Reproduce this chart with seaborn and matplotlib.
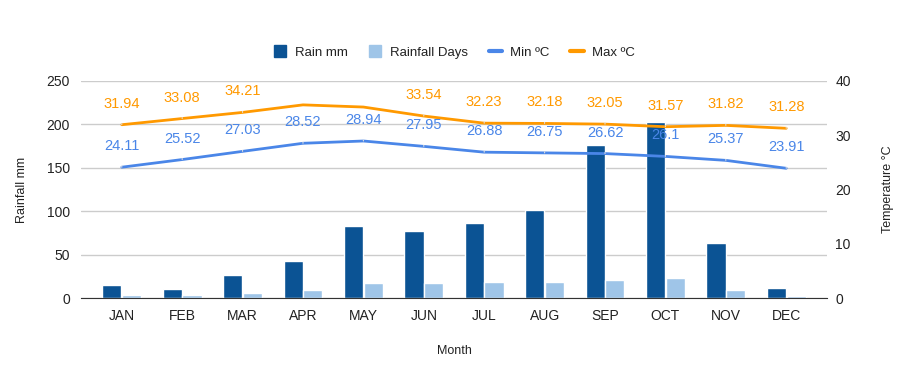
import numpy as np
import pandas as pd
import matplotlib
matplotlib.use("Agg")
import matplotlib.pyplot as plt
from matplotlib.lines import Line2D
import seaborn as sns

months = ["JAN", "FEB", "MAR", "APR", "MAY", "JUN", "JUL", "AUG", "SEP", "OCT", "NOV", "DEC"]
rain_mm = [15, 10.5, 26.5, 42.5, 83, 77, 86.5, 101.5, 176, 203, 63.5, 11.5]
rain_days = [3.5, 3.5, 6, 9.5, 17.5, 17.5, 18.5, 18.5, 20.5, 23, 9.5, 2.5]
min_temp = [24.11, 25.52, 27.03, 28.52, 28.94, 27.95, 26.88, 26.75, 26.62, 26.1, 25.37, 23.91]
max_temp = [31.94, 33.08, 34.21, 35.6, 35.2, 33.54, 32.23, 32.18, 32.05, 31.57, 31.82, 31.28]
# the reference shows no value label on these max points
max_unlabelled = ["APR", "MAY"]

dark_blue = "#0b5394"
light_blue = "#9fc5e8"
min_col = "#4a86e8"
max_col = "#ff9900"

sns.set_style("white")
plt.rcParams["font.family"] = ["Liberation Sans", "DejaVu Sans"]

bars = pd.DataFrame({
    "Month": months * 2,
    "value": rain_mm + rain_days,
    "series": ["Rain mm"] * 12 + ["Rainfall Days"] * 12,
})

fig = plt.figure(figsize=(9.08, 3.71), dpi=100)
ax = fig.add_axes([81 / 908, 73 / 371, 746 / 908, 217 / 371])

sns.barplot(data=bars, x="Month", y="value", hue="series", ax=ax,
            palette=[dark_blue, light_blue], width=0.65, gap=0.03,
            saturation=1, legend=False, zorder=2)
ax.set_xlim(-0.675, 11.675)
ax.set_ylim(0, 250)
ax.set_yticks(range(0, 251, 50))
ax.grid(axis="y", color="#cccccc", lw=1, zorder=0)
ax.set_axisbelow(True)
for s in ["top", "right", "left"]:
    ax.spines[s].set_visible(False)
ax.spines["bottom"].set_color("#333333")
ax.tick_params(axis="both", length=0, labelsize=10, labelcolor="#222222")
ax.tick_params(axis="x", pad=8)
ax.tick_params(axis="y", pad=8)
ax.set_xlabel("Month", fontsize=9, color="#222222")
ax.set_ylabel("Rainfall mm", fontsize=9, color="#222222")
ax.xaxis.set_label_coords(0.5, -0.217)
ax.yaxis.set_label_coords(-0.071, 0.5)

ax2 = ax.twinx()
x = np.arange(len(months))
sns.lineplot(x=x, y=min_temp, ax=ax2, color=min_col, lw=2)
sns.lineplot(x=x, y=max_temp, ax=ax2, color=max_col, lw=2)
ax2.set_ylim(0, 40)
ax2.set_yticks(range(0, 41, 10))
for s in ["top", "right", "left", "bottom"]:
    ax2.spines[s].set_visible(False)
ax2.tick_params(axis="y", length=0, labelsize=10, labelcolor="#222222", pad=6)
ax2.set_ylabel("Temperature °C", fontsize=9, color="#222222")
ax2.yaxis.set_label_coords(1.074, 0.5)

for i, m in enumerate(months):
    ax2.annotate(f"{min_temp[i]:g}", (i, min_temp[i]), xytext=(0, 21),
                 textcoords="offset pixels", ha="center", va="center",
                 fontsize=10.5, color=min_col,
                 arrowprops=dict(arrowstyle="-", color="#dddddd", lw=0.8,
                                 shrinkA=7, shrinkB=0))
    if m not in max_unlabelled:
        ax2.annotate(f"{max_temp[i]:g}", (i, max_temp[i]), xytext=(0, 21),
                     textcoords="offset pixels", ha="center", va="center",
                     fontsize=10.5, color=max_col,
                     arrowprops=dict(arrowstyle="-", color="#dddddd", lw=0.8,
                                     shrinkA=7, shrinkB=0))

handles = [
    Line2D([], [], marker="s", ls="", color=dark_blue, markersize=9),
    Line2D([], [], marker="s", ls="", color=light_blue, markersize=9),
    Line2D([], [], color=min_col, lw=3),
    Line2D([], [], color=max_col, lw=3),
]
fig.legend(handles, ["Rain mm", "Rainfall Days", "Min ºC", "Max ºC"],
           loc="center", bbox_to_anchor=(0.5, 1 - 53 / 371), ncol=4,
           frameon=False, fontsize=9.5, handlelength=1.0, handletextpad=0.6,
           columnspacing=1.6, labelcolor="#222222")

fig.savefig("out.png", dpi=100)
